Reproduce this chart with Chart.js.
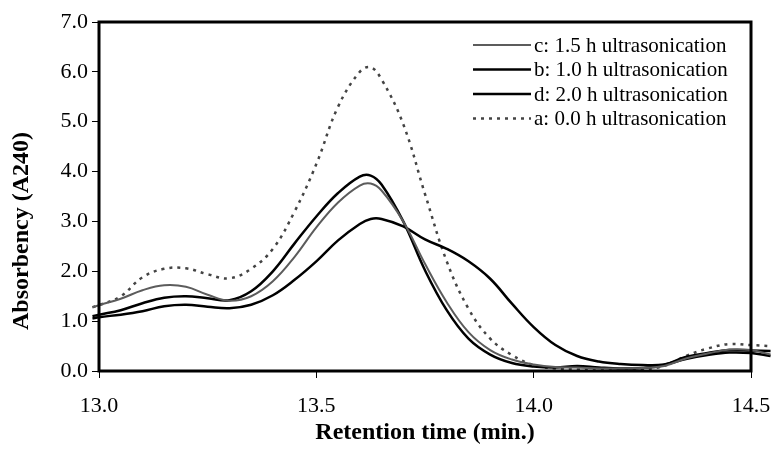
<!DOCTYPE html>
<html>
<head>
<meta charset="utf-8">
<script src="https://cdn.jsdelivr.net/npm/chart.js@4"></script>
<style>
html, body { margin: 0; padding: 0; background: #fff; }
#wrap { width: 772px; height: 450px; }
</style>
</head>
<body>
<div id="wrap"><canvas id="chromatogram"></canvas></div>
<script>
// retention time (min.)
const retentionTimes = [12.985, 13.0, 13.05, 13.1, 13.15, 13.2, 13.25, 13.3, 13.35, 13.4, 13.45, 13.5, 13.55, 13.6, 13.625, 13.65, 13.7, 13.75, 13.8, 13.85, 13.9, 13.95, 14.0, 14.05, 14.1, 14.15, 14.2, 14.25, 14.3, 14.35, 14.4, 14.45, 14.5, 14.545];

// absorbency (A240) per sample
const absC = [1.28, 1.32, 1.45, 1.62, 1.72, 1.69, 1.53, 1.41, 1.5, 1.8, 2.29, 2.88, 3.38, 3.72, 3.76, 3.62, 3.0, 2.15, 1.38, 0.78, 0.42, 0.23, 0.13, 0.08, 0.07, 0.05, 0.05, 0.06, 0.1, 0.25, 0.35, 0.43, 0.42, 0.33];
const absB = [1.1, 1.13, 1.22, 1.36, 1.47, 1.5, 1.46, 1.42, 1.6, 2.0, 2.56, 3.1, 3.57, 3.9, 3.92, 3.74, 3.0, 2.02, 1.22, 0.65, 0.33, 0.16, 0.09, 0.07, 0.1, 0.07, 0.05, 0.06, 0.12, 0.28, 0.36, 0.42, 0.41, 0.4];
const absD = [1.05, 1.08, 1.13, 1.2, 1.3, 1.33, 1.29, 1.26, 1.33, 1.52, 1.83, 2.2, 2.62, 2.95, 3.05, 3.05, 2.9, 2.64, 2.45, 2.2, 1.85, 1.35, 0.88, 0.52, 0.3, 0.19, 0.14, 0.12, 0.13, 0.24, 0.32, 0.37, 0.36, 0.3];
const absA = [1.28, 1.32, 1.5, 1.88, 2.05, 2.06, 1.94, 1.86, 2.05, 2.45, 3.2, 4.15, 5.3, 6.0, 6.09, 5.85, 4.95, 3.55, 2.2, 1.25, 0.65, 0.32, 0.12, 0.05, 0.03, 0.02, 0.02, 0.03, 0.1, 0.3, 0.45, 0.54, 0.52, 0.5];

const seriesLabels = ['c: 1.5 h ultrasonication', 'b: 1.0 h ultrasonication', 'd: 2.0 h ultrasonication', 'a: 0.0 h ultrasonication'];
const xTicks = [13.0, 13.5, 14.0, 14.5];
const yTicks = [0, 1, 2, 3, 4, 5, 6, 7];

const serif = '"Liberation Serif", "Times New Roman", serif';

function toPoints(values) {
    return retentionTimes.map((t, i) => ({ x: t, y: values[i] }));
}

// plot frame, legend box and the y title (excel-ish look)
const framePlugin = {
    id: 'frameAndLegend',
    afterDatasetsDraw: function (chart) {
        const ctx = chart.ctx;
        const area = chart.chartArea;
        ctx.save();
        ctx.strokeStyle = '#000';
        ctx.lineWidth = 3;
        ctx.strokeRect(area.left, area.top, area.right - area.left, area.bottom - area.top);

        // legend
        const lx = 473, lw = 58, ly = 45, step = 24.5;
        ctx.font = '21px ' + serif;
        ctx.textBaseline = 'middle';
        ctx.textAlign = 'left';
        chart.data.datasets.forEach((ds, i) => {
            const y = ly + i * step;
            ctx.beginPath();
            ctx.strokeStyle = ds.borderColor;
            ctx.lineWidth = ds.borderWidth;
            ctx.setLineDash(ds.borderDash || []);
            ctx.moveTo(lx, y);
            ctx.lineTo(lx + lw, y);
            ctx.stroke();
            ctx.setLineDash([]);
            ctx.fillStyle = '#000';
            ctx.fillText(ds.label, lx + lw + 3, y + 1);
        });

        // y title
        ctx.translate(22, 231);
        ctx.rotate(-Math.PI / 2);
        ctx.font = 'bold 24px ' + serif;
        ctx.textAlign = 'center';
        ctx.fillText('Absorbency (A240)', 0, 0);
        ctx.restore();
    }
};

const ctx = document.getElementById('chromatogram').getContext('2d');
new Chart(ctx, {
    type: 'line',
    data: {
        datasets: [
            { label: seriesLabels[0], data: toPoints(absC), borderColor: '#5c5c5c', borderWidth: 2, clip: false },
            { label: seriesLabels[1], data: toPoints(absB), borderColor: '#000', borderWidth: 2.5, clip: false },
            { label: seriesLabels[2], data: toPoints(absD), borderColor: '#000', borderWidth: 2.5, clip: false },
            { label: seriesLabels[3], data: toPoints(absA), borderColor: '#444', borderWidth: 2.5, borderDash: [3, 5], clip: false }
        ]
    },
    options: {
        responsive: true,
        maintainAspectRatio: false,
        animation: false,
        layout: { padding: { top: 22, right: 21, left: 0, bottom: 0 } },
        elements: {
            point: { radius: 0 },
            line: { tension: 0.4, fill: false }
        },
        plugins: {
            legend: { display: false },
            tooltip: { enabled: false }
        },
        scales: {
            x: {
                type: 'linear',
                bounds: 'data',
                // range set here (not min/max) so the ends past 13.0 / 14.5 still get drawn
                afterBuildTicks: function (scale) {
                    scale.min = 13;
                    scale.max = 14.5;
                    scale.ticks = xTicks.map(v => ({ value: v }));
                },
                afterFit: function (scale) {
                    scale.height = 79;
                    scale.paddingLeft = 0;
                    scale.paddingRight = 0;
                },
                ticks: {
                    color: '#000',
                    font: { family: serif, size: 22 },
                    padding: 15,
                    maxRotation: 0,
                    callback: v => Number(v).toFixed(1)
                },
                grid: { drawOnChartArea: false, color: '#000', tickLength: 7 },
                border: { display: false },
                title: {
                    display: true,
                    text: 'Retention time (min.)',
                    color: '#000',
                    font: { family: serif, size: 24, weight: 'bold' },
                    padding: { top: 0, bottom: 3 }
                }
            },
            y: {
                min: 0,
                max: 7,
                afterBuildTicks: function (scale) {
                    scale.ticks = yTicks.map(v => ({ value: v }));
                },
                afterFit: function (scale) { scale.width = 99; },
                ticks: {
                    color: '#000',
                    font: { family: serif, size: 22 },
                    padding: 4,
                    callback: v => Number(v).toFixed(1)
                },
                grid: { drawOnChartArea: false, color: '#000', tickLength: 7 },
                border: { display: false }
            }
        }
    },
    plugins: [framePlugin]
});
</script>
</body>
</html>
